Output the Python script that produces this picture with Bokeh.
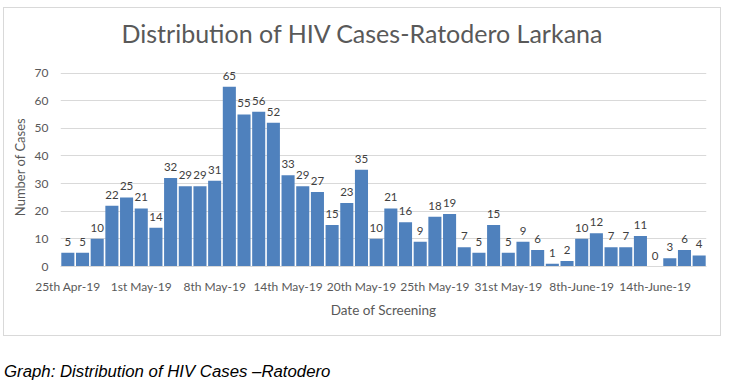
from bokeh.plotting import figure
from bokeh.models import Range1d, FixedTicker, Div, ColumnDataSource
from bokeh.layouts import column
from bokeh.core.properties import value
from bokeh.embed import file_html
from bokeh.resources import INLINE

# Data (cases per screening day)
cases = [5, 5, 10, 22, 25, 21, 14, 32, 29, 29, 31, 65, 55, 56, 52, 33, 29, 27, 15, 23,
         35, 10, 21, 16, 9, 18, 19, 7, 5, 15, 5, 9, 6, 1, 2, 10, 12, 7, 7, 11,
         0, 3, 6, 4]
day_index = list(range(len(cases)))
tick_positions = [0, 5, 10, 15, 20, 25, 30, 35, 40]
tick_labels = ["25th Apr-19", "1st May-19", "8th May-19", "14th May-19", "20th May-19",
               "25th May-19", "31st May-19", "8th-June-19", "14th-June-19"]
y_ticks = [0, 10, 20, 30, 40, 50, 60, 70]
title_text = "Distribution of HIV Cases-Ratodero Larkana"
caption_text = "Graph: Distribution of HIV Cases \u2013Ratodero"

FONT = "Lato"
GREY = "#595959"
src = ColumnDataSource(dict(x=day_index, y=cases, lab=[str(v) for v in cases]))

title_div = Div(text=title_text, width=716, height=32, margin=(10, 0, 0, 0),
                styles={"font-family": FONT, "font-size": "25px", "color": GREY,
                        "text-align": "center", "line-height": "30px",
                        "white-space": "nowrap", "width": "716px"})

p = figure(width=716, height=285, output_backend="svg", toolbar_location=None,
           x_range=Range1d(-0.5, len(cases) - 0.5), y_range=Range1d(0, 72),
           min_border_left=56, min_border_right=14, min_border_top=17, min_border_bottom=69,
           margin=(0, 0, 0, 0))
p.outline_line_color = None

p.vbar(x="x", top="y", width=0.89, source=src, fill_color="#4F81BD", line_color=None)
p.text(x="x", y="y", text="lab", source=src, text_align="center", text_baseline="alphabetic",
       y_offset=-11, text_font=value(FONT), text_font_size="11.5px", text_color="#404040")

p.xgrid.grid_line_color = None
p.ygrid.grid_line_color = "#d9d9d9"
p.ygrid.ticker = FixedTicker(ticks=y_ticks)

p.yaxis.ticker = FixedTicker(ticks=y_ticks)
p.yaxis.axis_line_color = None
p.yaxis.major_tick_line_color = None
p.yaxis.minor_tick_line_color = None
p.yaxis.major_tick_out = 0
p.yaxis.minor_tick_out = 0
p.yaxis.major_label_standoff = 12
p.yaxis.major_label_text_font = FONT
p.yaxis.major_label_text_font_size = "12px"
p.yaxis.major_label_text_color = GREY
p.yaxis.axis_label = "Number of Cases"
p.yaxis.axis_label_text_font = FONT
p.yaxis.axis_label_text_font_size = "13px"
p.yaxis.axis_label_text_font_style = "normal"
p.yaxis.axis_label_text_color = GREY
p.yaxis.axis_label_standoff = 4

p.xaxis.ticker = FixedTicker(ticks=tick_positions)
p.xaxis.major_label_overrides = {t: l for t, l in zip(tick_positions, tick_labels)}
p.xaxis.axis_line_color = "#d9d9d9"
p.xaxis.major_tick_line_color = None
p.xaxis.minor_tick_line_color = None
p.xaxis.major_tick_out = 0
p.xaxis.minor_tick_out = 0
p.xaxis.major_label_standoff = 12
p.xaxis.major_label_text_font = FONT
p.xaxis.major_label_text_font_size = "12px"
p.xaxis.major_label_text_color = GREY
p.xaxis.axis_label = "Date of Screening"
p.xaxis.axis_label_text_font = FONT
p.xaxis.axis_label_text_font_size = "13.5px"
p.xaxis.axis_label_text_font_style = "normal"
p.xaxis.axis_label_text_color = GREY
p.xaxis.axis_label_standoff = 5

box = column(title_div, p, spacing=0, margin=(7, 0, 0, 3),
             styles={"border": "1px solid #d9d9d9"})

caption = Div(text=caption_text, width=500, height=18, margin=(27, 0, 0, 4),
              styles={"font-family": "Liberation Sans", "font-style": "italic",
                      "font-size": "16.8px", "color": "#000000", "line-height": "18px"})

layout = column(box, caption, spacing=0)
open("out.html", "w").write(file_html(layout, INLINE))
